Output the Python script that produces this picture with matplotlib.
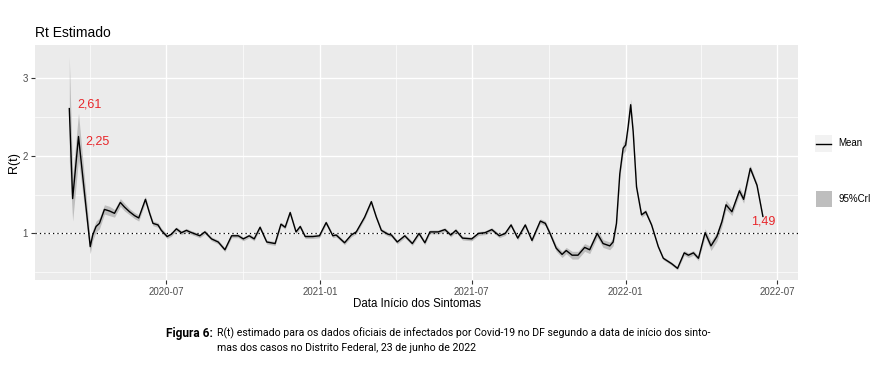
import numpy as np
import matplotlib
matplotlib.use("Agg")
import matplotlib.pyplot as plt
import matplotlib.dates as mdates
from matplotlib.patches import Rectangle
from matplotlib.lines import Line2D

plt.rcParams["font.family"] = ["Liberation Sans", "DejaVu Sans"]

# days since first symptom date (2020-03-07)
start = np.datetime64("2020-03-07")
days = [0, 4, 11, 25, 28, 32, 36, 42, 48, 54,
        61, 66, 72, 78, 83, 91, 96, 100, 106, 110,
        117, 122, 128, 134, 140, 144, 156, 162, 170, 178,
        186, 194, 202, 208, 215, 221, 228, 236, 246, 253,
        258, 264, 271, 276, 282, 291, 299, 307, 315, 319,
        329, 337, 343, 353, 361, 367, 373, 381, 385, 392,
        401, 410, 418, 425, 431, 441, 449, 456, 462, 470,
        481, 489, 497, 505, 514, 521, 528, 536, 545, 553,
        563, 569, 575, 582, 589, 594, 601, 608, 616, 622,
        631, 638, 646, 650, 654, 658, 662, 665, 668, 671,
        674, 678, 684, 689, 696, 704, 710, 720, 727, 735,
        740, 746, 752, 760, 767, 774, 780, 785, 792, 801,
        806, 814, 822, 829]
rt_mean = [2.61, 1.45, 2.25, 0.83, 0.98, 1.09, 1.13, 1.31, 1.29, 1.26,
           1.40, 1.34, 1.28, 1.23, 1.20, 1.44, 1.26, 1.13, 1.11, 1.04,
           0.96, 0.99, 1.06, 1.01, 1.04, 1.02, 0.97, 1.02, 0.93, 0.89,
           0.79, 0.97, 0.97, 0.93, 0.97, 0.93, 1.08, 0.89, 0.87, 1.12,
           1.08, 1.27, 1.02, 1.09, 0.96, 0.96, 0.97, 1.14, 0.97, 0.98,
           0.88, 0.98, 1.02, 1.21, 1.41, 1.21, 1.04, 0.99, 0.98, 0.89,
           0.97, 0.87, 1.00, 0.88, 1.02, 1.02, 1.05, 0.98, 1.04, 0.94,
           0.93, 1.00, 1.01, 1.05, 0.97, 1.00, 1.11, 0.94, 1.11, 0.91,
           1.16, 1.13, 0.99, 0.81, 0.73, 0.78, 0.72, 0.72, 0.82, 0.79,
           1.00, 0.87, 0.84, 0.89, 1.13, 1.77, 2.10, 2.14, 2.38, 2.66,
           2.31, 1.60, 1.24, 1.28, 1.11, 0.83, 0.68, 0.61, 0.55, 0.75,
           0.72, 0.75, 0.68, 1.01, 0.84, 0.96, 1.15, 1.37, 1.28, 1.55,
           1.44, 1.84, 1.62, 1.22]
# half width of the 95% credible interval
ci_half = [0.67, 0.29, 0.30, 0.09, 0.07, 0.07, 0.07, 0.06, 0.06, 0.05,
           0.05, 0.05, 0.04, 0.04, 0.04, 0.04, 0.03, 0.03, 0.03, 0.03] + \
          [0.025] * 60 + \
          [0.03, 0.03, 0.03, 0.04, 0.04, 0.04, 0.05, 0.05, 0.05, 0.05,
           0.05, 0.05, 0.05, 0.05, 0.05, 0.05, 0.07, 0.07, 0.05, 0.07,
           0.05, 0.03, 0.03, 0.03, 0.02, 0.02, 0.02, 0.02, 0.02, 0.03,
           0.03, 0.03, 0.03, 0.05, 0.06, 0.06, 0.06, 0.06, 0.05, 0.05,
           0.05, 0.04, 0.03, 0.02]

labels = ["2,61", "2,25", "1,49"]
label_days = [9, 19, 829]
label_vals = [2.66, 2.19, 1.15]

dates = start + np.array(days).astype("timedelta64[D]")
mean = np.array(rt_mean)
half = np.array(ci_half)

fig = plt.figure(figsize=(8.8, 3.78), dpi=100)
ax = fig.add_axes([35 / 880, 1 - 280 / 378, 763 / 880, 235 / 378])
ax.set_facecolor("#EBEBEB")
for s in ax.spines.values():
    s.set_visible(False)

ax.fill_between(dates, mean - half, mean + half, color="#BEBEBE", lw=0, zorder=2)
ax.plot(dates, mean, color="black", lw=1.0, zorder=3)
ax.axhline(1, color="black", ls=(0, (1, 2.5)), lw=0.9, zorder=4)

for t, d, v in zip(labels, label_days, label_vals):
    ha = "center" if d > 800 else "left"
    ax.text(start + np.timedelta64(d, "D"), v, t, color="#E8262A",
            fontsize=9, ha=ha, va="center", zorder=5)

ax.set_xlim(np.datetime64("2020-01-26"), np.datetime64("2022-07-26"))
ax.set_ylim(0.4, 3.43)
ax.set_yticks([1, 2, 3])
ax.set_yticks([0.5, 1.5, 2.5], minor=True)
ax.xaxis.set_major_locator(mdates.MonthLocator(bymonth=[1, 7]))
ax.xaxis.set_minor_locator(mdates.MonthLocator(bymonth=[4, 10]))
ax.xaxis.set_major_formatter(mdates.DateFormatter("%Y-%m"))
ax.grid(which="major", color="white", lw=1.0, zorder=1)
ax.grid(which="minor", color="white", lw=0.5, zorder=1)
ax.set_axisbelow(True)
ax.tick_params(which="major", length=3, color="#333333", labelsize=7,
               labelcolor="#4D4D4D", pad=2)
ax.tick_params(which="minor", length=0)

ax.set_xlabel("Data Início dos Sintomas", fontsize=8.3, labelpad=1)
ax.set_ylabel("R(t)", fontsize=9, labelpad=2)
fig.text(35 / 880, 1 - 33 / 378, "Rt Estimado", fontsize=10, va="center")

# legend drawn by hand
fig.add_artist(Rectangle((815 / 880, 1 - 152 / 378), 17 / 880, 17 / 378,
                         transform=fig.transFigure, color="#F2F2F2", lw=0))
fig.add_artist(Line2D([816 / 880, 831 / 880], [1 - 143.5 / 378] * 2,
                      transform=fig.transFigure, color="black", lw=1.0))
fig.text(838 / 880, 1 - 143.5 / 378, "Mean", fontsize=7, va="center")
fig.add_artist(Rectangle((815.5 / 880, 1 - 207 / 378), 16 / 880, 16 / 378,
                         transform=fig.transFigure, color="#BEBEBE", lw=0))
fig.text(838 / 880, 1 - 199 / 378, "95%CrI", fontsize=7, va="center")

# caption
cap_font = ["Roboto", "DejaVu Sans"]
fig.text(213 / 880, 1 - 333 / 378, "Figura 6:", fontsize=8.6, fontweight="bold",
         family=cap_font, ha="right", va="center")
fig.text(217 / 880, 1 - 333 / 378,
         "R(t) estimado para os dados oficiais de infectados por Covid-19 no DF "
         "segundo a data de início dos sinto-",
         fontsize=7.6, family=cap_font, va="center")
fig.text(217 / 880, 1 - 348 / 378,
         "mas dos casos no Distrito Federal, 23 de junho de 2022",
         fontsize=7.6, family=cap_font, va="center")

fig.savefig("out.png", dpi=100)
